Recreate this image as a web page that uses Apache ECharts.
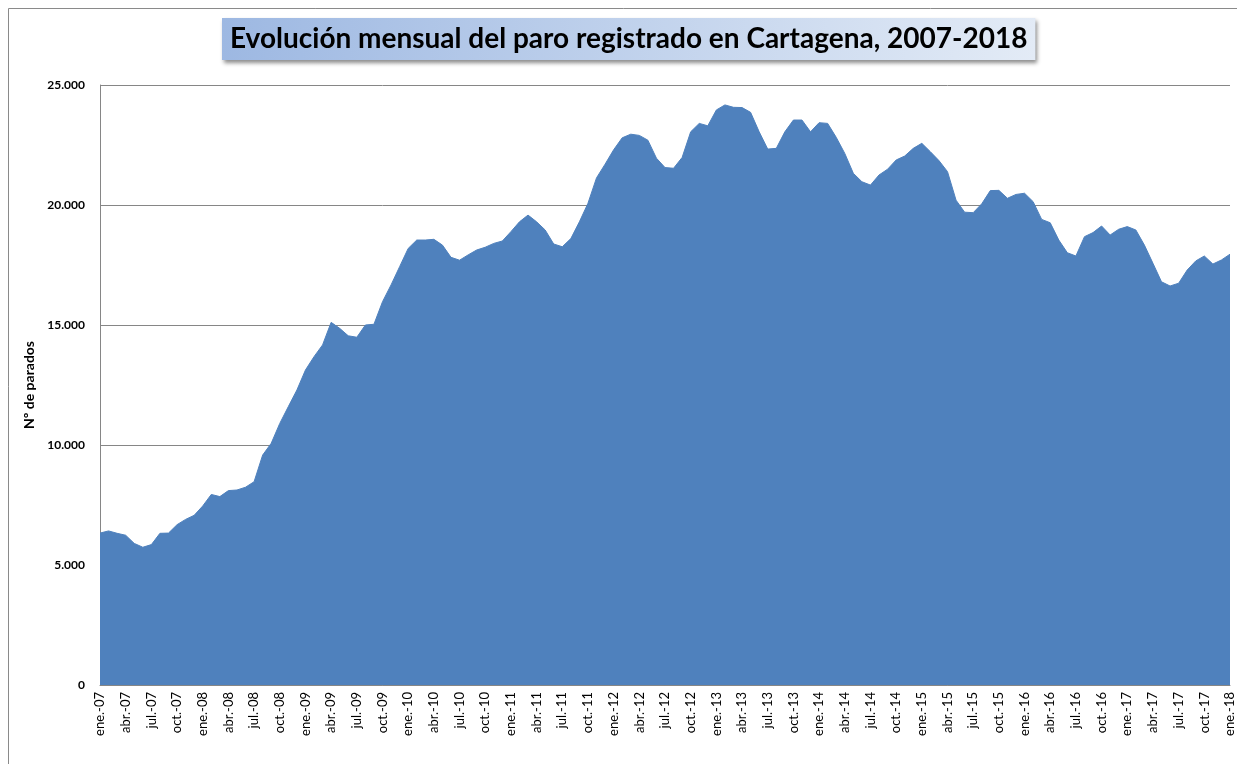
<!DOCTYPE html>
<html>
<head>
<meta charset="utf-8">
<script src="https://cdn.jsdelivr.net/npm/echarts@6/dist/echarts.min.js"></script>
<style>
html,body{margin:0;padding:0;background:#fff;}
#chart{width:1237px;height:764px;}
</style>
</head>
<body>
<div id="chart"></div>
<script>
const meses = ['ene.','feb.','mar.','abr.','may.','jun.','jul.','ago.','sep.','oct.','nov.','dic.'];
const anios = ['07','08','09','10','11','12','13','14','15','16','17','18'];
const yTicks = [0, 5000, 10000, 15000, 20000, 25000];

const parados2007 = [6330, 6420, 6320, 6240, 5900, 5740, 5850, 6320, 6330, 6680, 6900, 7070];
const parados2008 = [7460, 7940, 7850, 8100, 8125, 8240, 8470, 9580, 10070, 10900, 11600, 12290];
const parados2009 = [13125, 13680, 14170, 15110, 14860, 14550, 14490, 15000, 15030, 15970, 16670, 17430];
const parados2010 = [18190, 18540, 18540, 18570, 18330, 17820, 17700, 17920, 18125, 18240, 18400, 18500];
const parados2011 = [18890, 19300, 19580, 19300, 18960, 18375, 18260, 18600, 19300, 20070, 21130, 21700];
const parados2012 = [22300, 22800, 22950, 22900, 22700, 21950, 21560, 21530, 21980, 23050, 23400, 23300];
const parados2013 = [23960, 24170, 24070, 24060, 23860, 23050, 22330, 22360, 23050, 23540, 23540, 23050];
const parados2014 = [23430, 23400, 22820, 22150, 21320, 20970, 20830, 21250, 21490, 21875, 22040, 22360];
const parados2015 = [22570, 22220, 21850, 21390, 20200, 19700, 19680, 20050, 20600, 20610, 20280, 20440];
const parados2016 = [20490, 20140, 19400, 19260, 18540, 18010, 17875, 18680, 18850, 19125, 18750, 18990];
const parados2017 = [19100, 18960, 18330, 17570, 16800, 16625, 16740, 17290, 17670, 17875, 17540, 17710];
const parados2018 = [17950];

const valores = [].concat(parados2007, parados2008, parados2009, parados2010, parados2011,
  parados2012, parados2013, parados2014, parados2015, parados2016, parados2017, parados2018);

const categorias = [];
anios.forEach(a => meses.forEach(m => categorias.push(m + '-' + a)));
categorias.length = valores.length;

function fmtMiles(v) {
  return String(v).replace(/\B(?=(\d{3})+(?!\d))/g, '.');
}

const chart = echarts.init(document.getElementById('chart'), null, {renderer: 'canvas'});
chart.setOption({
  animation: false,
  backgroundColor: '#ffffff',
  title: {
    text: 'Evolución mensual del paro registrado en Cartagena, 2007-2018',
    left: 222,
    top: 18,
    padding: [5, 8, 5, 8],
    backgroundColor: new echarts.graphic.LinearGradient(0, 0, 1, 1, [
      {offset: 0, color: '#9db8e2'},
      {offset: 1, color: '#e3ebf6'}
    ]),
    shadowColor: 'rgba(0,0,0,0.45)',
    shadowBlur: 4,
    shadowOffsetX: 2,
    shadowOffsetY: 3,
    textStyle: {
      fontFamily: 'Lato',
      fontWeight: 'bold',
      fontSize: 28,
      lineHeight: 32,
      color: '#000000'
    }
  },
  graphic: [{
    type: 'rect',
    silent: true,
    shape: {x: 8.5, y: 8.5, width: 1240, height: 780},
    style: {fill: 'none', stroke: '#8a8a8a', lineWidth: 1}
  }],
  grid: {left: 100, right: 7, top: 85, bottom: 79},
  xAxis: {
    type: 'category',
    data: categorias,
    boundaryGap: false,
    axisLine: {show: true, lineStyle: {color: '#868686'}},
    axisTick: {show: false},
    axisLabel: {
      interval: function (i) { return i % 3 === 0; },
      rotate: 90,
      margin: 7,
      fontFamily: 'Lato',
      fontSize: 13,
      color: '#000000'
    },
    splitLine: {show: false}
  },
  yAxis: {
    type: 'value',
    min: yTicks[0],
    max: yTicks[yTicks.length - 1],
    interval: yTicks[1] - yTicks[0],
    name: 'Nº de parados',
    nameLocation: 'middle',
    nameRotate: 90,
    nameGap: 64,
    nameTextStyle: {fontFamily: 'Lato', fontWeight: 'bold', fontSize: 14, color: '#000000'},
    axisLine: {show: true, lineStyle: {color: '#868686'}},
    axisTick: {show: false},
    axisLabel: {
      formatter: fmtMiles,
      margin: 15,
      fontFamily: 'Lato',
      fontWeight: 'bold',
      fontSize: 12,
      color: '#000000'
    },
    splitLine: {show: true, lineStyle: {color: '#868686', width: 1}}
  },
  series: [{
    type: 'line',
    data: valores,
    symbol: 'none',
    smooth: false,
    lineStyle: {width: 1, color: '#4f81bd'},
    areaStyle: {color: '#4f81bd', opacity: 1},
    z: 3
  }]
});
</script>
</body>
</html>
